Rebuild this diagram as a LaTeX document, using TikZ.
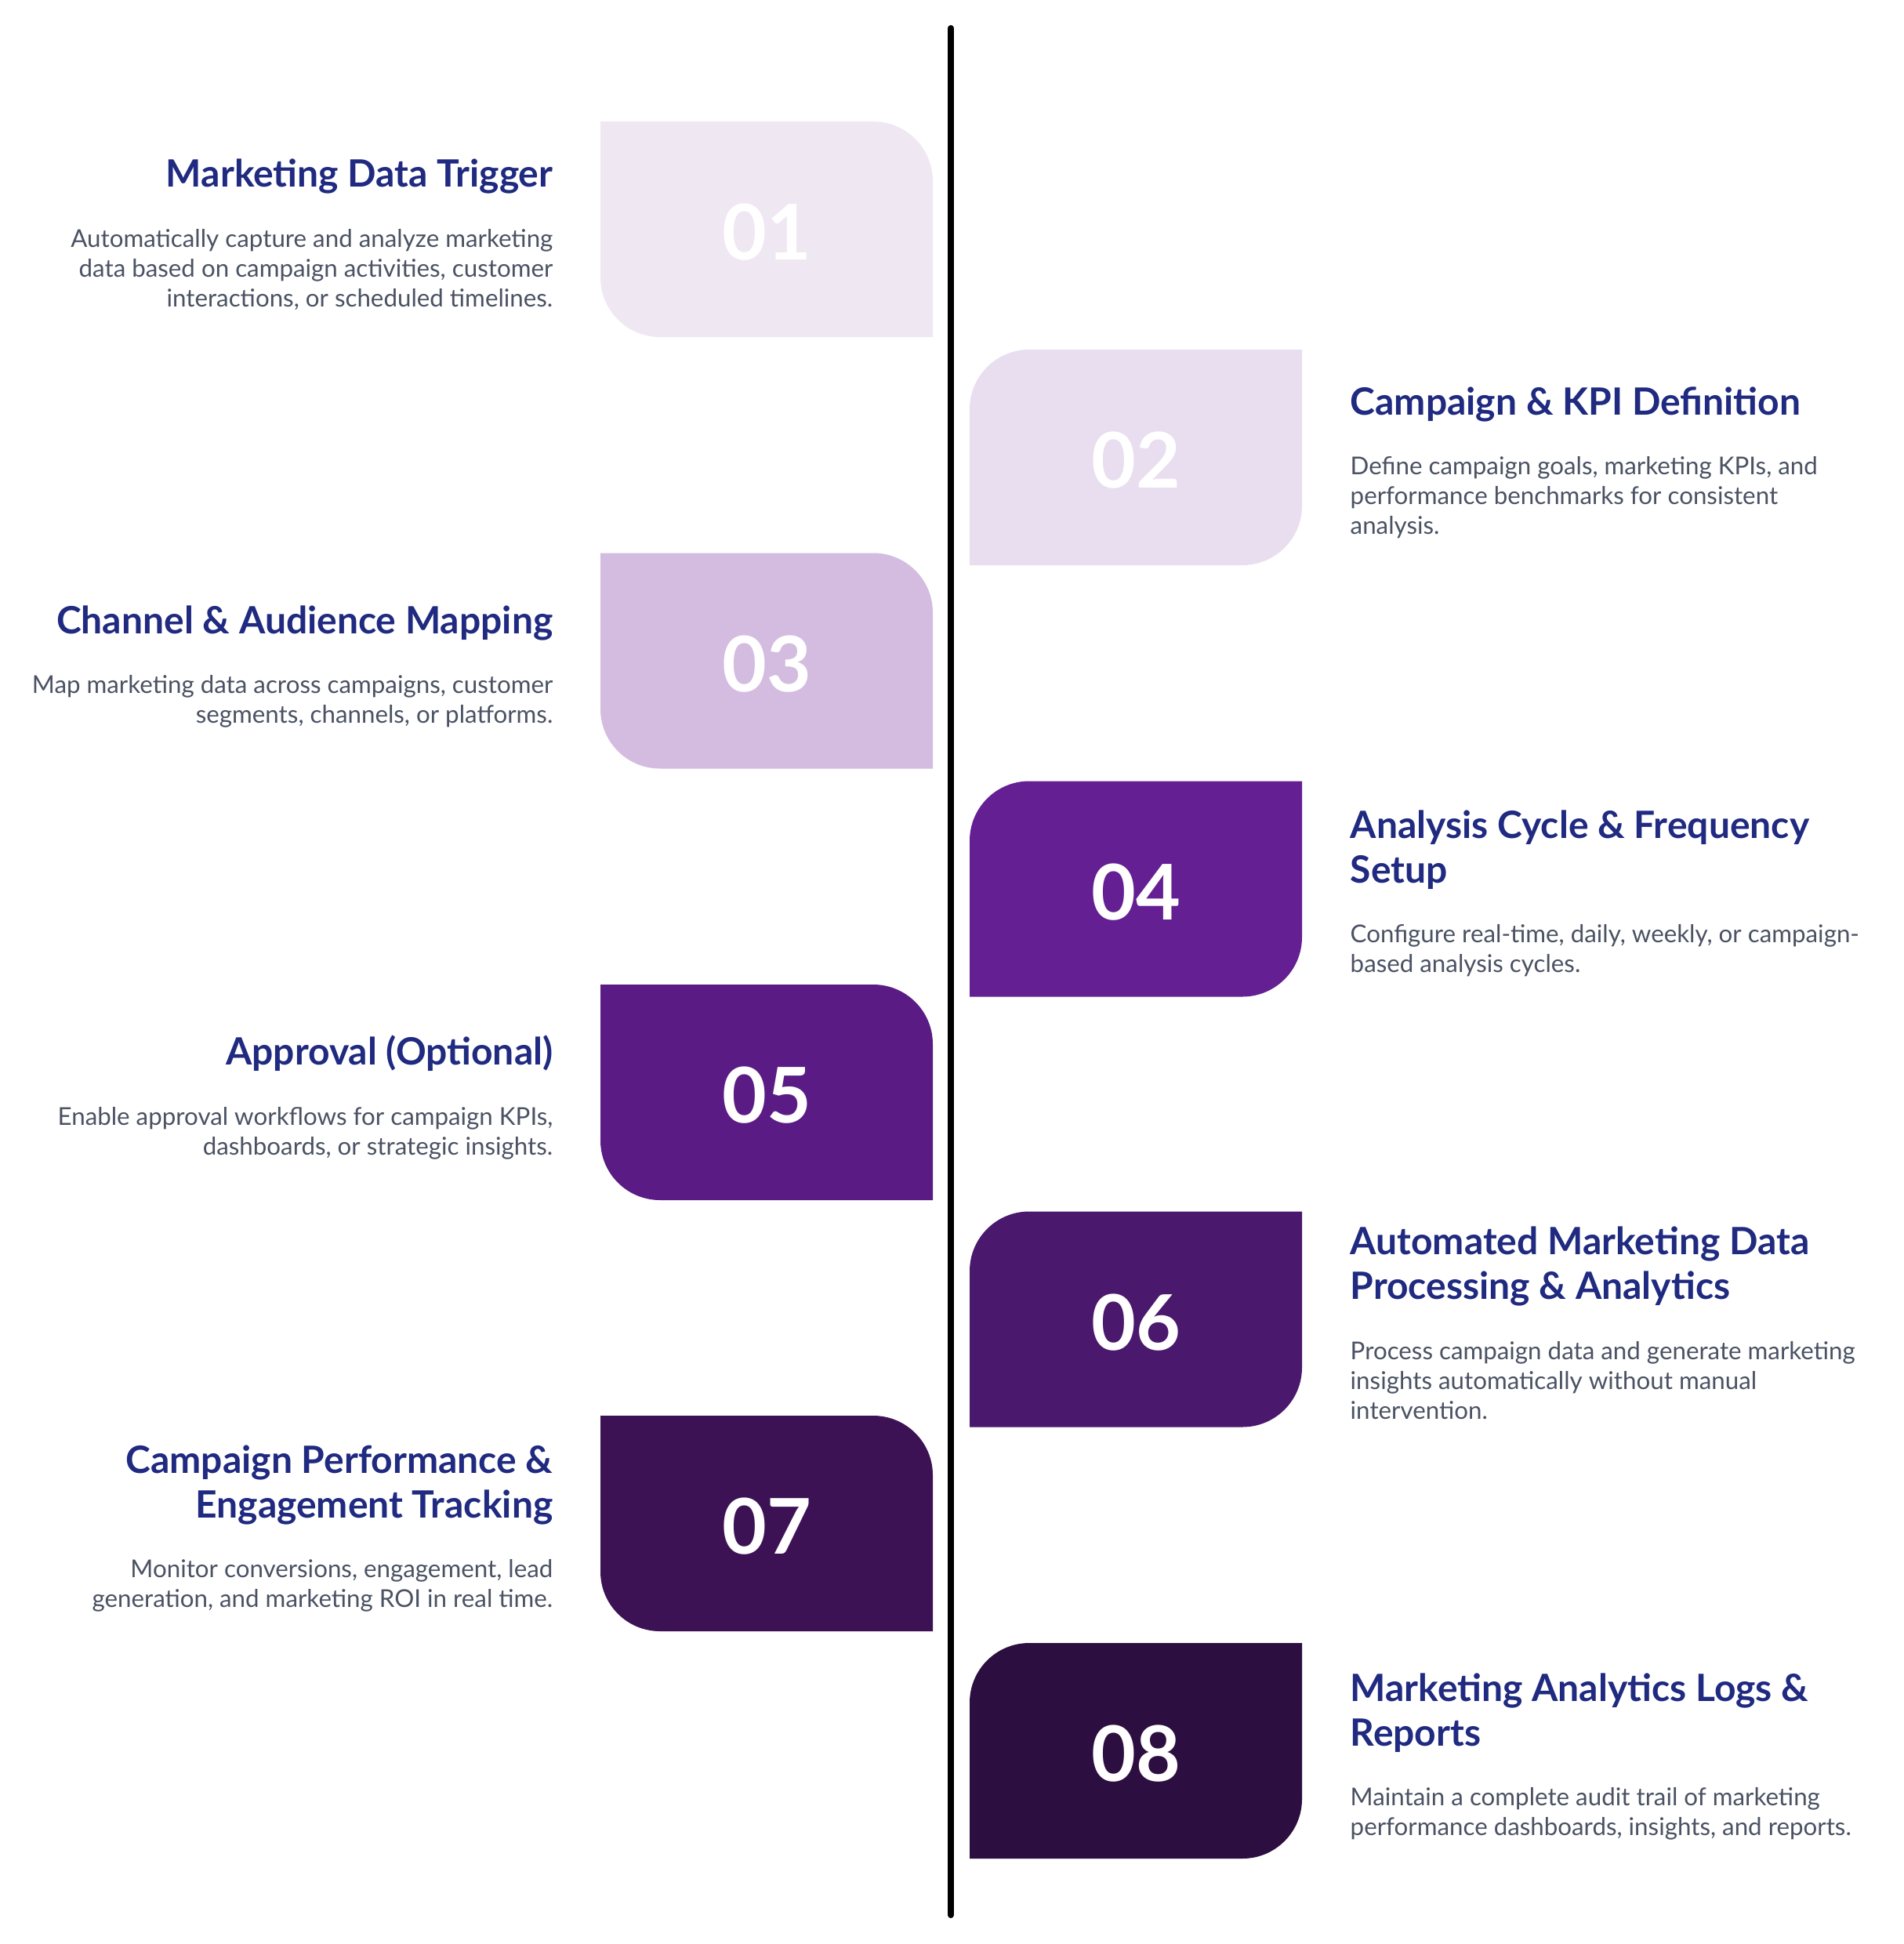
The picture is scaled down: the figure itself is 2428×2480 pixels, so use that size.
\documentclass[tikz,border=0pt]{standalone}
\usepackage{fontspec}
\setmainfont{Lato}
\definecolor{titlec}{HTML}{1F2A80}
\definecolor{bodyc}{HTML}{4A5263}
\definecolor{bA}{HTML}{EFE8F3}
\definecolor{bB}{HTML}{E8DEEF}
\definecolor{bC}{HTML}{D3BCE0}
\definecolor{bD}{HTML}{641F93}
\definecolor{bE}{HTML}{5A1C84}
\definecolor{bF}{HTML}{4A186C}
\definecolor{bG}{HTML}{3C1255}
\definecolor{bH}{HTML}{2D0E40}
\newcommand\lboxshape[2]{%
  \fill[#2] (766,#1) -- (1114,#1) .. controls (1156,#1) and (1190,#1+34) .. (1190,#1+76)
    -- (1190,#1+275) -- (842,#1+275) .. controls (800,#1+275) and (766,#1+241) .. (766,#1+199) -- cycle;}
\newcommand\rboxshape[2]{%
  \fill[#2] (1237,#1+76) .. controls (1237,#1+34) and (1271,#1) .. (1313,#1) -- (1661,#1)
    -- (1661,#1+199) .. controls (1661,#1+241) and (1627,#1+275) .. (1585,#1+275) -- (1237,#1+275) -- cycle;}
\begin{document}
\begin{tikzpicture}[x=1pt,y=-1pt,
  ttl/.style={font=\fontsize{48}{57.6}\selectfont\bfseries, text=titlec, inner sep=0pt},
  bdy/.style={font=\fontsize{31.3}{38}\selectfont, text=bodyc, inner sep=0pt},
  num/.style={font=\fontsize{98}{98}\selectfont\bfseries, text=white, inner sep=0pt},
  lft/.style={anchor=north east, align=right},
  rgt/.style={anchor=north west, align=left},
  timeline/.style={line width=8pt, line cap=round, draw=black}]
\useasboundingbox (0,0) rectangle (2428,2480);
\fill[white] (0,0) rectangle (2428,2480);
% timeline
\coordinate (ltop) at (1213,36);
\coordinate (lbot) at (1213,2443);
\draw[timeline] (ltop) -- (lbot);
% boxes
\lboxshape{155}{bA}
\rboxshape{446}{bB}
\lboxshape{705.5}{bC}
\rboxshape{996.5}{bD}
\lboxshape{1256}{bE}
\rboxshape{1545.5}{bF}
\lboxshape{1806}{bG}
\rboxshape{2096}{bH}
% numbers
\node[num] (n1) at (978,296.5) {01};
\node[num] (n2) at (1449,587.5) {02};
\node[num] (n3) at (978,847) {03};
\node[num] (n4) at (1449,1138) {04};
\node[num] (n5) at (978,1397.5) {05};
\node[num] (n6) at (1449,1687) {06};
\node[num] (n7) at (978,1947.5) {07};
\node[num] (n8) at (1449,2237.5) {08};
% texts
\node[ttl,lft] (t1) at (705.5,198) {\rule{0pt}{40pt}Marketing Data Trigger};
\node[bdy,lft] (d1) at (705.5,288) {\rule{0pt}{27pt}Automatically capture and analyze marketing\\data based on campaign activities, customer\\interactions, or scheduled timelines.};
\node[ttl,rgt] (t2) at (1722.5,489) {\rule{0pt}{40pt}Campaign \& KPI Definition};
\node[bdy,rgt] (d2) at (1722.5,578) {\rule{0pt}{27pt}Define campaign goals, marketing KPIs, and\\performance benchmarks for consistent\\analysis.};
\node[ttl,lft] (t3) at (705.5,768) {\rule{0pt}{40pt}Channel \& Audience Mapping};
\node[bdy,lft] (d3) at (705.5,857) {\rule{0pt}{27pt}Map marketing data across campaigns, customer\\segments, channels, or platforms.};
\node[ttl,rgt] (t4) at (1722.5,1029) {\rule{0pt}{40pt}Analysis Cycle \& Frequency\\Setup};
\node[bdy,rgt] (d4) at (1722.5,1175) {\rule{0pt}{27pt}Configure real-time, daily, weekly, or campaign-\\based analysis cycles.};
\node[ttl,lft] (t5) at (705.5,1318) {\rule{0pt}{40pt}Approval (Optional)};
\node[bdy,lft] (d5) at (705.5,1408) {\rule{0pt}{27pt}Enable approval workflows for campaign KPIs,\\dashboards, or strategic insights.};
\node[ttl,rgt] (t6) at (1722.5,1560) {\rule{0pt}{40pt}Automated Marketing Data\\Processing \& Analytics};
\node[bdy,rgt] (d6) at (1722.5,1707) {\rule{0pt}{27pt}Process campaign data and generate marketing\\insights automatically without manual\\intervention.};
\node[ttl,lft] (t7) at (705.5,1839) {\rule{0pt}{40pt}Campaign Performance \&\\Engagement Tracking};
\node[bdy,lft] (d7) at (705.5,1985) {\rule{0pt}{27pt}Monitor conversions, engagement, lead\\generation, and marketing ROI in real time.};
\node[ttl,rgt] (t8) at (1722.5,2130) {\rule{0pt}{40pt}Marketing Analytics Logs \&\\Reports};
\node[bdy,rgt] (d8) at (1722.5,2276) {\rule{0pt}{27pt}Maintain a complete audit trail of marketing\\performance dashboards, insights, and reports.};
\end{tikzpicture}
\end{document}
